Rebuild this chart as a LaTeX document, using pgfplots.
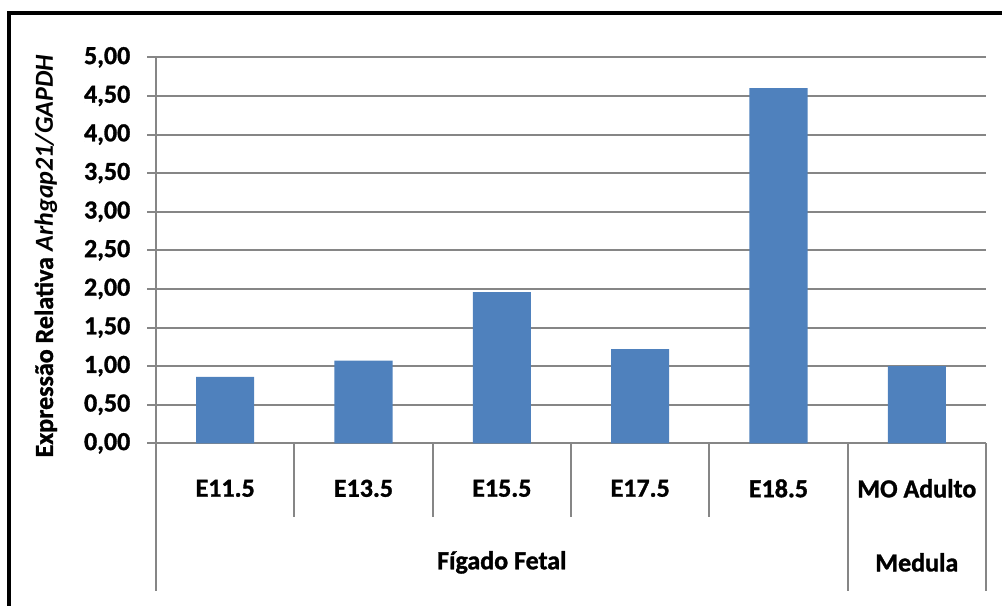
\documentclass[border=0pt]{standalone}
\usepackage{fontspec}
\setmainfont{Carlito}[BoldFeatures={FakeBold=1.2}]
\usepackage{pgfplots}
\pgfplotsset{compat=1.18}
\definecolor{barblue}{RGB}{79,129,189}
\definecolor{gridgray}{RGB}{134,134,134}
\begin{document}
\begin{tikzpicture}
\useasboundingbox (0,0) rectangle (751.5pt,-454.5pt);
\clip (0,0) rectangle (751.5pt,-454.5pt);
\draw[black, line width=3pt] (6.75pt,-470pt) -- (6.75pt,-9.75pt) -- (760pt,-9.75pt);
\begin{axis}[
  at={(117pt,-332.5pt)}, anchor=south west,
  scale only axis, width=622.5pt, height=289.5pt,
  xmin=-0.5, xmax=5.5, ymin=0, ymax=5,
  axis x line*=bottom, axis y line*=left,
  axis line style={gridgray, line width=1.5pt, -},
  ytick={0,0.5,...,5},
  ymajorgrids, grid style={gridgray, line width=1.5pt},
  tick align=outside, major tick length=6.75pt,
  ytick style={gridgray, line width=1.5pt},
  xtick={0,...,5},
  xticklabels={E11.5,E13.5,E15.5,E17.5,E18.5,MO Adulto},
  xtick style={draw=none},
  xticklabel style={anchor=center, yshift=-27pt},
  tick label style={font=\fontsize{19.5}{22}\selectfont\bfseries},
  yticklabel style={xshift=-9pt, /pgf/number format/.cd, fixed, fixed zerofill, precision=2, use comma, assume math mode=true},
  ylabel={Expressão Relativa \textit{Arhgap21/GAPDH}},
  ylabel style={font=\fontsize{19.5}{22}\selectfont\bfseries, at={(axis description cs:-0.1325,0.485)}, rotate=0, anchor=center},
  clip=false,
]
\addplot[ybar, bar width=0.42, fill=barblue, draw=none] coordinates {
  (0,0.86) (1,1.07) (2,1.96) (3,1.22) (4,4.60) (5,1.00)
};
\pgfplotsinvokeforeach{0.5,1.5,2.5,3.5}{
  \draw[gridgray, line width=1.5pt] (axis cs:#1,0) -- ++(0pt,-55.5pt);
}
\pgfplotsinvokeforeach{-0.5,4.5,5.5}{
  \draw[gridgray, line width=1.5pt] (axis cs:#1,0) -- ++(0pt,-111pt);
}
\node[font=\fontsize{19.5}{22}\selectfont\bfseries] at (axis cs:2,0) [yshift=-89.25pt] {Fígado Fetal};
\node[font=\fontsize{19.5}{22}\selectfont\bfseries] at (axis cs:5,0) [yshift=-89.25pt] {Medula};
\end{axis}
\end{tikzpicture}
\end{document}
